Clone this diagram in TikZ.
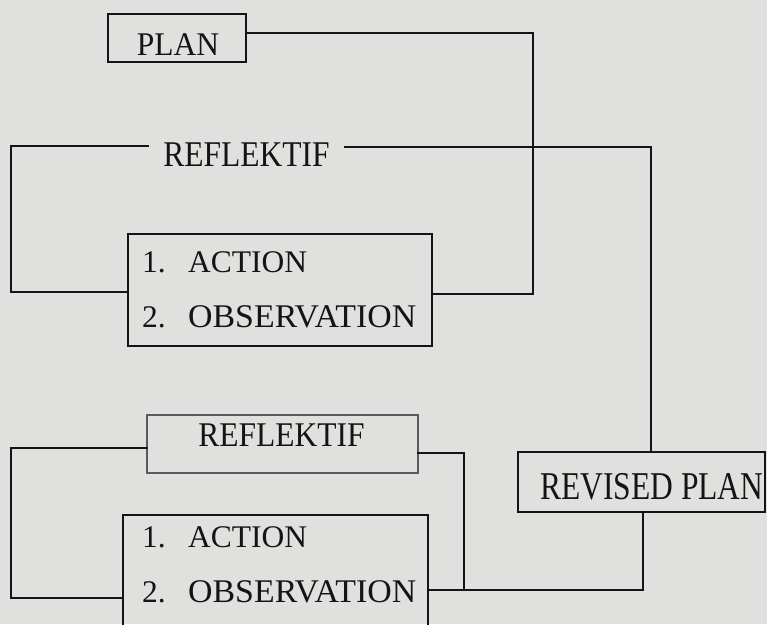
\documentclass[tikz,border=0pt]{standalone}
\usepackage{fontspec}
\usepackage{graphicx}
\setmainfont{Liberation Serif}
\definecolor{paper}{RGB}{224,224,222}
\definecolor{ink}{RGB}{20,20,20}
\tikzset{
  box/.style={draw=ink, line width=2.6pt, rectangle, inner sep=0pt},
  thinbox/.style={draw=ink!70, line width=1.4pt, rectangle, inner sep=0pt},
  conn/.style={draw=ink, line width=2.8pt, line cap=rect},
  lbl/.style={inner sep=0pt, text=ink, font=\fontsize{31.5}{36}\selectfont},
}
\newcommand{\itm}[2]{\makebox[46pt][l]{#1}#2}
\begin{document}
\begin{tikzpicture}[x=1pt,y=-1pt]
\useasboundingbox (0,0) rectangle (767,624);
\fill[paper] (0,0) rectangle (767,624);
\clip (0,0) rectangle (767,624);

% boxes
\node[box, minimum width=138pt, minimum height=48pt] (plan) at (177,38) {};
\node[lbl, anchor=base] (plant) at (178,55) {\scalebox{1}[1.05]{PLAN}};

\node[lbl, anchor=base, inner xsep=16pt] (refl1) at (246.5,166) {\scalebox{1}[1.15]{REFLEKTIF}};

\node[box, minimum width=304pt, minimum height=112pt] (box1) at (280,290) {};
\node[lbl, anchor=base west] (a1) at (142,272) {\itm{1.}{ACTION}};
\node[lbl, anchor=base west] (o1) at (142,327) {\itm{2.}{\scalebox{1.075}[1.05]{OBSERVATION}}};

\node[thinbox, minimum width=271pt, minimum height=58pt] (refl2) at (282.5,444) {};
\node[lbl, anchor=base] (refl2t) at (281.5,446) {\scalebox{1}[1.1]{REFLEKTIF}};

\node[box, minimum width=305pt, minimum height=130pt] (box2) at (275.5,580) {};
\node[lbl, anchor=base west] (a2) at (142,547) {\itm{1.}{ACTION}};
\node[lbl, anchor=base west] (o2) at (142,602) {\itm{2.}{\scalebox{1.075}[1.05]{OBSERVATION}}};

\node[box, minimum width=247pt, minimum height=60pt] (rev) at (641.5,482) {};
\node[lbl, anchor=base west] (revt) at (540,499) {\scalebox{1}[1.25]{REVISED PLAN}};

% corner points
\coordinate (p1) at (533,33);
\coordinate (p2) at (533,294);
\coordinate (tl) at (11,146);
\coordinate (bl) at (11,292);
\coordinate (tr) at (651,147);
\coordinate (l2t) at (11,448);
\coordinate (l2b) at (11,598);
\coordinate (r2t) at (464,453);
\coordinate (r2b) at (464,590);
\coordinate (rb) at (643,590);

% connectors
\draw[conn] (plan.east |- p1) -- (p1) -- (p2) -- (p2 -| box1.east);
\draw[conn] (refl1.west |- tl) -- (tl) -- (bl) -- (bl -| box1.west);
\draw[conn] (refl1.east |- tr) -- (tr) -- (tr |- rev.north);
\draw[conn] (refl2.west |- l2t) -- (l2t) -- (l2b) -- (l2b -| box2.west);
\draw[conn] (refl2.east |- r2t) -- (r2t) -- (r2b);
\draw[conn] (box2.east |- rb) -- (rb) -- (rb |- rev.south);
\end{tikzpicture}
\end{document}
